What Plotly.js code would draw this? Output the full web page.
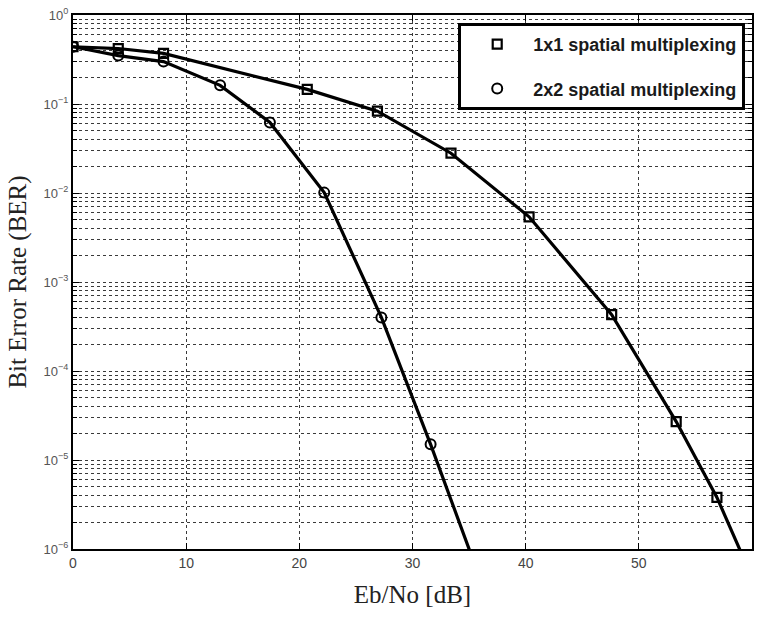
<!DOCTYPE html>
<html>
<head>
<meta charset="utf-8">
<script src="https://cdn.plot.ly/plotly-3.0.1.min.js"></script>
<style>html,body{margin:0;padding:0;background:#fff;}#chart{width:758px;height:619px;}</style>
</head>
<body>
<div id="chart"></div>
<script>
// 1x1 spatial multiplexing (markers)
const ebno1x1 = [0, 4, 8, 20.7, 26.9, 33.4, 40.3, 47.6, 53.3, 56.9];
const ber1x1  = [0.44, 0.42, 0.37, 0.146, 0.083, 0.028, 0.0054, 4.3e-4, 2.7e-5, 3.8e-6];
// tail of the 1x1 curve (continues below the axis)
const ebno1x1Tail = [56.9, 60];
const ber1x1Tail  = [3.8e-6, 4.8e-7];

// 2x2 spatial multiplexing (markers)
const ebno2x2 = [0, 4, 8, 13, 17.4, 22.2, 27.25, 31.6];
const ber2x2  = [0.44, 0.35, 0.30, 0.162, 0.062, 0.0101, 4.0e-4, 1.5e-5];
const ebno2x2Tail = [31.6, 36];
const ber2x2Tail  = [1.5e-5, 4.5e-7];

const yTickVals = [1, 0.1, 0.01, 0.001, 1e-4, 1e-5, 1e-6];
const yTickText = ['10<sup>0</sup>', '10<sup>−1</sup>', '10<sup>−2</sup>', '10<sup>−3</sup>', '10<sup>−4</sup>', '10<sup>−5</sup>', '10<sup>−6</sup>'];
const xTickVals = [0, 10, 20, 30, 40, 50, 60];

const lineStyle = {color: '#000', width: 3.2};

const traces = [
  {x: ebno1x1.concat(ebno1x1Tail.slice(1)), y: ber1x1.concat(ber1x1Tail.slice(1)), mode: 'lines', line: lineStyle, showlegend: false, hoverinfo: 'skip'},
  {x: ebno2x2.concat(ebno2x2Tail.slice(1)), y: ber2x2.concat(ber2x2Tail.slice(1)), mode: 'lines', line: lineStyle, showlegend: false, hoverinfo: 'skip'},
  {x: ebno1x1, y: ber1x1, mode: 'markers', name: '1x1 spatial multiplexing', legendgroup: 'a',
   marker: {symbol: 'square-open', size: 9, color: '#000', line: {width: 2.2, color: '#000'}}},
  {x: ebno2x2, y: ber2x2, mode: 'markers', name: '2x2 spatial multiplexing', legendgroup: 'b',
   marker: {symbol: 'circle-open', size: 10, color: '#000', line: {width: 2, color: '#000'}}}
];

const gridColor = '#3a3a3a';
const layout = {
  width: 758, height: 619,
  margin: {l: 73, r: 6, t: 15, b: 70},
  paper_bgcolor: '#fff', plot_bgcolor: '#fff',
  showlegend: true,
  legend: {
    x: 0.99, xanchor: 'right', y: 0.985, yanchor: 'top',
    bgcolor: '#fff', bordercolor: '#000', borderwidth: 3,
    font: {family: 'Liberation Sans, Arial, sans-serif', size: 18, color: '#1a1a1a', weight: 'bold'},
    traceorder: 'grouped', tracegroupgap: 18, itemwidth: 62
  },
  xaxis: {
    range: [0, 60], tickvals: xTickVals, ticks: 'inside', ticklen: 6, tickcolor: '#000',
    showline: true, linecolor: '#000', linewidth: 2, mirror: 'ticks',
    showgrid: true, gridcolor: gridColor, griddash: 'dot', gridwidth: 1, zeroline: false,
    tickfont: {family: 'Liberation Sans, Arial, sans-serif', size: 14, color: '#444'},
    title: {text: 'Eb/No [dB]', font: {family: 'Liberation Serif, Times New Roman, serif', size: 25, color: '#222'}, standoff: 16}
  },
  yaxis: {
    type: 'log', range: [-6, 0], tickvals: yTickVals, ticktext: yTickText,
    ticks: 'inside', ticklen: 6, tickcolor: '#000',
    showline: true, linecolor: '#000', linewidth: 2, mirror: 'ticks',
    showgrid: true, gridcolor: gridColor, griddash: 'dot', gridwidth: 1, zeroline: false,
    tickfont: {family: 'Liberation Sans, Arial, sans-serif', size: 13, color: '#555'},
    minor: {dtick: 'D1', showgrid: true, gridcolor: gridColor, griddash: 'dot', gridwidth: 1, ticks: 'inside', ticklen: 4, tickcolor: '#000'},
    title: {text: 'Bit Error Rate (BER)', font: {family: 'Liberation Serif, Times New Roman, serif', size: 25, color: '#222'}, standoff: 10}
  }
};

Plotly.newPlot('chart', traces, layout, {displayModeBar: false, staticPlot: true});
</script>
</body>
</html>
